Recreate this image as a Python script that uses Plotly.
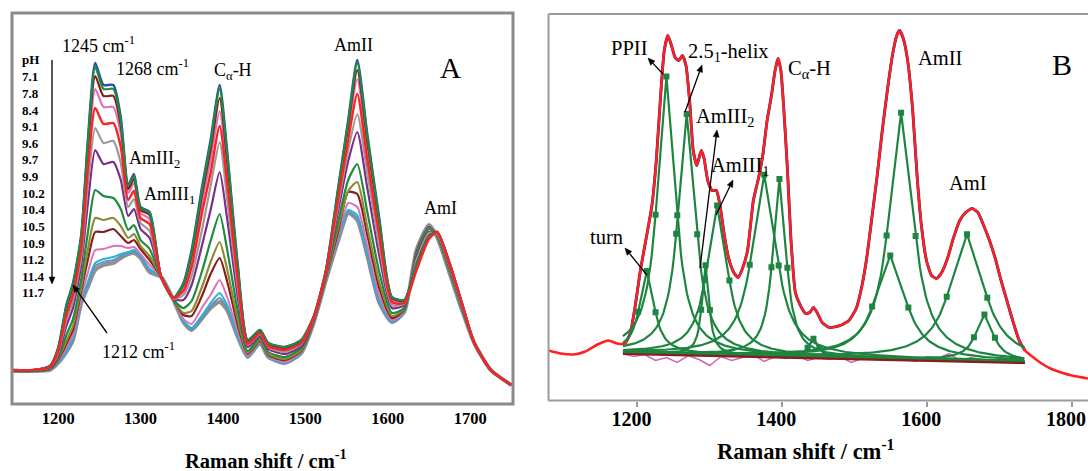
import math
import numpy as np
import plotly.graph_objects as go

W, H = 1088, 471
SERIF = "Liberation Serif"

# ---------------- Panel A : pH-dependent spectra (arbitrary intensity) ----------------
xA = [1145, 1170, 1190, 1200, 1210, 1218, 1228, 1236, 1245, 1255, 1267, 1276, 1285, 1292,
      1300, 1311, 1325, 1340, 1352, 1362, 1375, 1385, 1396, 1405, 1418, 1430, 1445, 1455,
      1475, 1495, 1510, 1525, 1540, 1552, 1563, 1575, 1590, 1605, 1620, 1635, 1650, 1660,
      1675, 1690, 1705, 1725, 1750]

pH_labels = ["7.1", "7.8", "8.4", "9.1", "9.6", "9.7", "9.9", "10.2", "10.4", "10.5",
             "10.9", "11.2", "11.4", "11.7"]

spec_7_1 = [34, 34, 38, 56, 99, 121, 169, 264, 341, 319, 319, 287, 219, 230, 197, 192, 127, 106, 121, 154,
            219, 264, 319, 254, 139, 64, 74, 61, 57, 64, 87, 134, 217, 284, 344, 271, 184, 107, 104, 139,
            167, 172, 141, 101, 61, 34, 19]
spec_7_8 = [34, 34, 38, 56, 98, 120, 168, 261, 337, 315, 315, 284, 218, 228, 196, 191, 127, 106, 120, 152,
            216, 261, 315, 251, 138, 64, 74, 61, 57, 64, 87, 134, 216, 282, 341, 269, 182, 107, 104, 139,
            167, 172, 141, 101, 61, 34, 19]
spec_8_4 = [34, 34, 38, 55, 96, 118, 165, 255, 328, 308, 308, 278, 215, 225, 194, 189, 127, 106, 119, 149,
            211, 254, 306, 244, 135, 63, 73, 60, 56, 63, 87, 133, 214, 278, 334, 264, 179, 106, 103, 140,
            168, 172, 140, 101, 61, 34, 19]
spec_9_1 = [34, 34, 37, 54, 93, 114, 161, 247, 315, 297, 297, 270, 211, 221, 191, 185, 127, 106, 116, 144,
            203, 244, 293, 235, 130, 62, 72, 59, 55, 62, 86, 133, 211, 273, 325, 256, 174, 104, 103, 141,
            168, 171, 140, 100, 61, 34, 19]
spec_9_6 = [34, 34, 37, 53, 89, 109, 155, 234, 296, 280, 281, 257, 204, 213, 186, 180, 127, 106, 113, 137,
            193, 231, 278, 222, 124, 60, 71, 58, 54, 61, 86, 132, 206, 264, 310, 245, 167, 102, 101, 134,
            165, 172, 141, 101, 61, 34, 19]
spec_9_7 = [34, 34, 37, 51, 84, 103, 147, 218, 276, 261, 263, 241, 197, 205, 181, 173, 127, 105, 109, 128,
            176, 218, 262, 206, 116, 59, 70, 57, 52, 60, 85, 131, 200, 254, 290, 232, 157, 99, 100, 144,
            171, 170, 138, 99, 61, 34, 19]
spec_9_9 = [34, 34, 36, 49, 78, 96, 139, 200, 254, 240, 242, 224, 188, 195, 175, 166, 127, 105, 104, 119,
            160, 194, 232, 186, 107, 57, 68, 55, 50, 58, 84, 130, 194, 243, 272, 217, 147, 96, 99, 146,
            172, 170, 137, 98, 61, 34, 19]
spec_10_2 = [33, 33, 35, 46, 69, 85, 125, 171, 214, 208, 206, 195, 174, 179, 164, 155, 127, 104, 96, 103,
             134, 163, 190, 155, 93, 53, 66, 52, 47, 56, 83, 128, 183, 224, 240, 193, 131, 91, 96, 149,
             175, 169, 135, 97, 61, 34, 19]
spec_10_4 = [33, 33, 35, 45, 63, 78, 117, 154, 186, 184, 186, 178, 166, 170, 158, 148, 127, 104, 91, 93,
             118, 142, 162, 135, 84, 51, 64, 50, 45, 54, 82, 126, 177, 213, 222, 178, 121, 88, 95, 150,
             176, 168, 133, 96, 61, 34, 19]
spec_10_5 = [33, 33, 35, 44, 60, 74, 113, 144, 172, 172, 175, 168, 161, 164, 155, 144, 127, 104, 89, 88,
             109, 130, 146, 123, 79, 50, 63, 49, 44, 53, 82, 126, 173, 212, 210, 170, 115, 86, 94, 152,
             177, 168, 133, 96, 61, 34, 19]
spec_10_9 = [33, 33, 34, 42, 56, 69, 106, 131, 154, 155, 158, 158, 156, 157, 150, 139, 127, 104, 85, 80,
             97, 109, 124, 107, 73, 48, 62, 48, 42, 52, 81, 125, 168, 201, 197, 159, 108, 84, 93, 153,
             178, 167, 132, 95, 61, 34, 19]
spec_11_2 = [33, 33, 34, 41, 53, 66, 103, 122, 141, 145, 147, 150, 152, 154, 148, 135, 127, 104, 83, 76,
             89, 101, 111, 99, 69, 47, 61, 47, 41, 51, 81, 124, 166, 194, 189, 152, 104, 83, 92, 154,
             179, 167, 131, 94, 61, 34, 19]
spec_11_4 = [33, 33, 34, 41, 52, 65, 102, 120, 138, 142, 144, 148, 151, 152, 147, 134, 127, 104, 82, 75,
             87, 98, 106, 96, 68, 47, 61, 47, 41, 51, 81, 124, 165, 192, 186, 150, 102, 82, 92, 154,
             179, 167, 131, 94, 61, 34, 19]
spec_11_7 = [33, 33, 34, 41, 52, 64, 101, 117, 134, 139, 141, 146, 150, 151, 146, 132, 127, 104, 82, 74,
             86, 96, 102, 94, 67, 47, 61, 47, 41, 51, 81, 124, 164, 191, 184, 149, 101, 82, 92, 154,
             179, 167, 131, 94, 61, 34, 19]

# draw order (back to front), colour, width
A_traces = [
    ("11.7", spec_11_7, "#8f8f8f", 4.0),
    ("11.4", spec_11_4, "#6f8fc0", 2.0),
    ("11.2", spec_11_2, "#22b4d4", 2.0),
    ("10.9", spec_10_9, "#e070b8", 2.0),
    ("10.5", spec_10_5, "#8b1c1c", 2.2),
    ("10.4", spec_10_4, "#8c8c30", 2.2),
    ("10.2", spec_10_2, "#1f8a40", 2.2),
    ("9.9", spec_9_9, "#7e2b8e", 2.2),
    ("9.7", spec_9_7, "#9a9a9a", 2.2),
    ("9.1", spec_9_1, "#e070b8", 2.2),
    ("8.4", spec_8_4, "#8b1c1c", 2.2),
    ("7.1", spec_7_1, "#2d4fa8", 2.4),
    ("7.8", spec_7_8, "#1f8a40", 2.2),
    ("9.6", spec_9_6, "#ff2222", 2.4),
]

# ---------------- Panel B : band fitting ----------------
xB_exp = [1077, 1094, 1112, 1128, 1145, 1160, 1172, 1183, 1190, 1197, 1204, 1212, 1220, 1226, 1232,
          1237, 1242, 1247, 1252, 1257, 1262, 1267, 1272, 1277, 1282, 1288, 1292, 1297, 1303, 1309,
          1314, 1320, 1326, 1333, 1339, 1345, 1352, 1360, 1367, 1373, 1379, 1385, 1390, 1394, 1398,
          1402, 1407, 1412, 1418, 1425, 1432, 1438, 1443, 1448, 1455, 1465, 1480, 1492, 1502, 1510,
          1517, 1524, 1531, 1538, 1545, 1552, 1558, 1562, 1567, 1573, 1580, 1586, 1592, 1599, 1606,
          1613, 1620, 1628, 1636, 1645, 1653, 1662, 1670, 1678, 1686, 1694, 1702, 1710, 1718, 1727,
          1735, 1745, 1758, 1770, 1785, 1800, 1822]
yB_exp = [50, 47, 46, 49, 56, 60, 57, 57, 67, 95, 130, 162, 195, 240, 305,
          350, 365, 355, 343, 340, 345, 335, 300, 250, 235, 250, 242, 220, 210, 210,
          195, 165, 142, 128, 123, 132, 150, 200, 222, 245, 280, 305, 330, 342, 330,
          292, 232, 160, 108, 95, 87, 88, 93, 88, 78, 73, 75, 80, 92, 115,
          145, 185, 225, 270, 310, 345, 365, 370, 362, 340, 290, 225, 175, 140, 125,
          122, 128, 142, 162, 180, 188, 192, 188, 175, 160, 142, 120, 100, 80, 60,
          50, 44, 37, 32, 28, 25, 22]

xB_base = [1180, 1735]
yB_base = [48, 39]

xB_res = [1180, 1195, 1210, 1225, 1240, 1255, 1270, 1285, 1300, 1315, 1330, 1345, 1360, 1375, 1390,
          1405, 1420, 1435, 1450, 1465, 1480, 1495, 1510, 1525, 1540, 1555, 1570, 1585, 1600, 1615,
          1630, 1645, 1660, 1675, 1690, 1705, 1720, 1735]
yB_res = [47, 44, 46, 40, 43, 38, 45, 41, 35, 44, 40, 43, 46, 39, 44, 42, 45, 40, 43, 41, 44, 38, 42,
          45, 40, 43, 41, 39, 44, 42, 47, 40, 43, 41, 39, 42, 38, 37]

# fitted components: centre (cm-1), height, half width at half maximum
band_names = ["1443", "turn", "PPII", "2.5_1-helix", "AmIII2", "AmIII1", "CaH-1", "CaH-2",
              "AmII-1", "AmII-2", "AmI-1", "AmI-2"]
band_centre = [1443, 1213, 1240, 1268, 1294, 1310, 1375, 1396, 1549, 1564, 1655, 1679]
band_height = [18, 82, 277, 240, 89, 149, 181, 177, 103, 246, 126, 46]
band_hwhm = [8, 12, 15, 14.5, 6, 17, 20, 11, 25, 20, 28, 14.5]
band_color = ["#3050c0"] + ["#1e8540"] * 11

# ---------------- figure ----------------
fig = go.Figure()

for name, ys, col, w in A_traces:
    fig.add_trace(go.Scatter(x=xA, y=ys, mode="lines", name="pH " + name,
                             line=dict(color=col, width=w, shape="spline", smoothing=0.6),
                             xaxis="x", yaxis="y", showlegend=False, hoverinfo="skip"))

# Panel B traces
fig.add_trace(go.Scatter(x=xB_res, y=yB_res, mode="lines", line=dict(color="#d462b4", width=1.5),
                         xaxis="x2", yaxis="y2", showlegend=False))

fit_x = [x for x in xB_exp if 1183 <= x <= 1735]
fit_y = [y for x, y in zip(xB_exp, yB_exp) if 1183 <= x <= 1735]
fig.add_trace(go.Scatter(x=fit_x, y=fit_y, mode="lines",
                         line=dict(color="#1a237e", width=2.9, shape="spline", smoothing=0.5),
                         xaxis="x2", yaxis="y2", showlegend=False))
fig.add_trace(go.Scatter(x=xB_exp, y=yB_exp, mode="lines",
                         line=dict(color="#ff2020", width=2.5, shape="spline", smoothing=0.5),
                         xaxis="x2", yaxis="y2", showlegend=False))

grid = np.arange(1180, 1736, 2.0)
for c, h, w, col in zip(band_centre, band_height, band_hwhm, band_color):
    xs = sorted([g for g in grid if abs(g - c) > w] + [c - w, c, c + w])
    xs = np.array(xs)
    base = np.interp(xs, xB_base, yB_base)
    ys = base + h / (1 + ((xs - c) / w) ** 2)
    fig.add_trace(go.Scatter(x=xs, y=ys, mode="lines", line=dict(color=col, width=2.2),
                             xaxis="x2", yaxis="y2", showlegend=False))
    mx = np.array([c - w, c, c + w])
    my = np.interp(mx, xB_base, yB_base) + h / (1 + ((mx - c) / w) ** 2)
    fig.add_trace(go.Scatter(x=mx, y=my, mode="markers",
                             marker=dict(color="#1e8540", size=6, symbol="square"),
                             xaxis="x2", yaxis="y2", showlegend=False))

fig.add_trace(go.Scatter(x=xB_base, y=[v - 1.5 for v in yB_base], mode="lines",
                         line=dict(color="#8b1c1c", width=2.2),
                         xaxis="x2", yaxis="y2", showlegend=False))


def PX(x):
    return x / W


def PY(y):
    return 1 - y / H


ann = []
shapes = []


def text(x, y, t, size, bold=False, anchor="center"):
    ann.append(dict(x=PX(x), y=PY(y), xref="paper", yref="paper", text=("<b>%s</b>" % t) if bold else t,
                    showarrow=False, xanchor=anchor, yanchor="middle",
                    font=dict(family=SERIF, size=size, color="black")))


def arrow(hx, hy, tx, ty, L=7.0, hw=3.0):
    d = math.hypot(hx - tx, hy - ty)
    ux, uy = (hx - tx) / d, (hy - ty) / d
    bx, by = hx - ux * L, hy - uy * L
    shapes.append(dict(type="line", xref="paper", yref="paper", x0=PX(tx), y0=PY(ty), x1=PX(bx), y1=PY(by),
                       line=dict(color="black", width=1.3)))
    p1 = (bx - uy * hw, by + ux * hw)
    p2 = (bx + uy * hw, by - ux * hw)
    path = "M %f %f L %f %f L %f %f Z" % (PX(hx), PY(hy), PX(p1[0]), PY(p1[1]), PX(p2[0]), PY(p2[1]))
    shapes.append(dict(type="path", xref="paper", yref="paper", path=path,
                       fillcolor="black", line=dict(color="black", width=0.5)))


# Panel A labels
text(98, 45, "1245 cm<sup>-1</sup>", 18)
text(152, 68, "1268 cm<sup>-1</sup>", 18)
text(233, 72, "C<sub>α</sub>-H", 18)
text(154, 160, "AmIII<sub>2</sub>", 18)
text(169, 195, "AmIII<sub>1</sub>", 18)
text(353, 45, "AmII", 18)
text(440, 208, "AmI", 18)
text(450, 68, "A", 29)
text(138, 350, "1212 cm<sup>-1</sup>", 18)
text(20, 60, "pH", 13, bold=True, anchor="left")
for i, lab in enumerate(pH_labels):
    text(20, 77 + 16.6 * i, lab, 13, bold=True, anchor="left")
arrow(52, 284, 52, 60)
arrow(73, 285, 107, 333)
text(266, 459, "Raman shift / cm<sup>-1</sup>", 20.5, bold=True)

# Panel B labels
text(629, 48, "PPII", 20.5)
text(728, 53, "2.5<sub>1</sub>-helix", 20.5)
text(809, 70, "C<sub>α</sub>-H", 20.5)
text(725, 118, "AmIII<sub>2</sub>", 20.5)
text(740, 167, "AmIII<sub>1</sub>", 20.5)
text(606, 237, "turn", 20.5)
text(940, 58, "AmII", 20.5)
text(968, 183, "AmI", 20.5)
text(1062, 65, "B", 30)
arrow(648, 58, 663, 74)
arrow(702, 65, 685, 112)
arrow(717, 130, 700, 268)
arrow(733, 180, 716, 215)
arrow(625, 248, 647, 275)
text(806, 450, "Raman shift / cm<sup>-1</sup>", 22.5, bold=True)

shapes += [
    dict(type="rect", xref="paper", yref="paper", x0=PX(12), x1=PX(513), y0=PY(404), y1=PY(13),
         line=dict(color="#8a8a8a", width=3)),
    dict(type="line", xref="paper", yref="paper", x0=PX(548.5), x1=PX(548.5), y0=PY(400.5), y1=PY(14),
         line=dict(color="#9a9a9a", width=2)),
    dict(type="line", xref="paper", yref="paper", x0=PX(548.5), x1=1.01, y0=PY(14), y1=PY(14),
         line=dict(color="#9a9a9a", width=2)),
    dict(type="line", xref="paper", yref="paper", x0=PX(548.5), x1=1.01, y0=PY(400.5), y1=PY(400.5),
         line=dict(color="#9a9a9a", width=2)),
]

fig.update_layout(
    width=W, height=H, margin=dict(l=0, r=0, t=0, b=0),
    paper_bgcolor="white", plot_bgcolor="white", showlegend=False,
    annotations=ann, shapes=shapes,
    xaxis=dict(domain=[PX(12), PX(513)], range=[1144, 1752], tickvals=[1200, 1300, 1400, 1500, 1600, 1700],
               showgrid=False, zeroline=False, showline=False, ticks="", anchor="y",
               tickfont=dict(family=SERIF, size=16.5, color="black", weight="bold"), ticklabelstandoff=2),
    yaxis=dict(domain=[PY(404), PY(13)], range=[0, 391], visible=False, anchor="x"),
    xaxis2=dict(domain=[PX(548.5), 1.0], range=[1077.2, 1822], tickvals=[1200, 1400, 1600, 1800],
                showgrid=False, zeroline=False, showline=False, ticks="outside", ticklen=5,
                tickcolor="#9a9a9a", tickwidth=2, anchor="y2",
                tickfont=dict(family=SERIF, size=20, color="black", weight="bold"),
                ticklabelstandoff=-5, ticklabelshift=-6),
    yaxis2=dict(domain=[PY(400.5), PY(13)], range=[0, 387.5], visible=False, anchor="x2"),
)

fig.write_html("out.html", config={"displayModeBar": False},
               post_script="document.body.style.margin='0px';document.body.style.overflow='hidden';")
